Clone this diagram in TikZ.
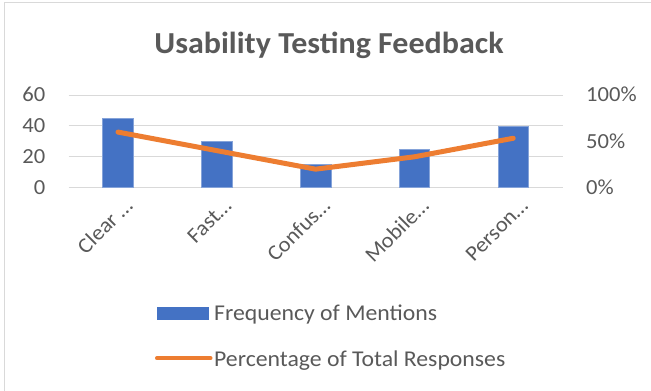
\documentclass[tikz,border=0pt]{standalone}
\usepackage{fontspec}
\setmainfont{Carlito}[FakeStretch=1.05]
\usetikzlibrary{positioning}
\definecolor{barblue}{RGB}{68,114,196}
\definecolor{lineorange}{RGB}{237,125,49}
\definecolor{gridgray}{RGB}{217,217,217}
\definecolor{textgray}{RGB}{89,89,89}

\begin{document}
\begin{tikzpicture}[x=1pt, y=-1pt,
    grid/.style={draw=gridgray, line width=1pt},
    bar/.style={fill=barblue, draw=barblue!65!white, line width=0.6pt},
    trend/.style={draw=lineorange, line width=5pt, line cap=round, line join=round},
    ticklabel/.style={text=textgray, font=\fontsize{21.5}{25}\selectfont, inner sep=0pt},
    catlabel/.style={ticklabel, rotate=45, anchor=base east},
    legendtext/.style={text=textgray, font=\fontsize{22.6}{27}\selectfont, inner sep=0pt, anchor=base west}
]
    \useasboundingbox (0,0) rectangle (651,391);
    % chart frame (only top and left show)
    \draw[gridgray, line width=1.5pt] (4.5,395) -- (4.5,2.5) -- (655,2.5);

    \node[text=textgray, font=\fontsize{30.5}{36}\selectfont\bfseries, inner sep=0pt, anchor=base] (title) at (329,53.3) {Usability Testing Feedback};

    % gridlines and axis labels
    \foreach \v [count=\i] in {0, 20, 40, 60} {
        \draw[grid] (68.6,187.7-1.545*\v) -- (562.6,187.7-1.545*\v);
        \node[ticklabel, anchor=base east] (yl\i) at (45.5,194.5-1.545*\v) {\v};
    }
    \node[ticklabel, anchor=base west] (yr1) at (586,194.5) {0\%};
    \node[ticklabel, anchor=base west] (yr2) at (586,194.5-46.35) {50\%};
    \node[ticklabel, anchor=base west] (yr3) at (586,194.5-92.7) {100\%};

    % bars
    \foreach \v/\c [count=\i] in {45/Clear …, 30/Fast…, 15/Confus…, 25/Mobile…, 40/Person…} {
        \pgfmathsetmacro{\xc}{68.6+98.8*(\i-0.5)}
        \path[bar] (\xc-15.3,187.7) rectangle (\xc+15.3,187.7-1.545*\v);
        \node[catlabel] (cat\i) at (\xc+16,207) {\c};
    }

    % percentage line
    \coordinate (p1) at (118.0,187.7-92.7*0.6);
    \coordinate (p2) at (216.8,187.7-92.7*0.4);
    \coordinate (p3) at (315.6,187.7-92.7*0.2);
    \coordinate (p4) at (414.4,187.7-92.7*0.3333);
    \coordinate (p5) at (513.2,187.7-92.7*0.5333);
    \draw[trend] (p1) -- (p2) -- (p3) -- (p4) -- (p5);

    % legend
    \path[fill=barblue] (157.3,306.7) rectangle (209,320);
    \node[legendtext] (leg1) at (214,320) {Frequency of Mentions};
    \coordinate (ls) at (157,358.3);
    \coordinate (le) at (210.5,358.3);
    \draw[lineorange, line width=4pt, line cap=round] (ls) -- (le);
    \node[legendtext] (leg2) at (214,366) {Percentage of Total Responses};
\end{tikzpicture}
\end{document}
